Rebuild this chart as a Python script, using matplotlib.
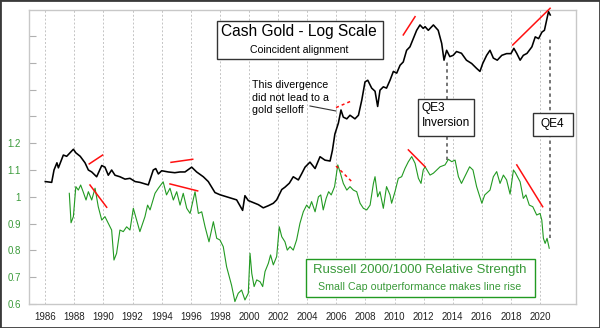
import matplotlib
matplotlib.use("Agg")
import matplotlib.pyplot as plt
from matplotlib.patches import Rectangle

plt.rcParams['font.family'] = ['Liberation Sans', 'DejaVu Sans']

# --- cash gold, $/oz (log axis)
gold_years = [
    1986.00, 1986.44, 1986.60, 1986.80, 1986.90, 1987.24, 1987.47, 1987.93, 1988.10, 1988.40,
    1988.73, 1988.96, 1989.19, 1989.53, 1989.88, 1990.10, 1990.33, 1990.56, 1990.79, 1991.13,
    1991.48, 1991.82, 1992.17, 1992.50, 1993.08, 1993.42, 1993.59, 1993.77, 1994.00, 1994.45,
    1994.90, 1995.26, 1995.60, 1996.06, 1996.40, 1996.86, 1997.20, 1997.66, 1998.00, 1998.35,
    1998.80, 1999.15, 1999.56, 1999.72, 1999.95, 2000.30, 2000.64, 2000.98, 2001.33, 2001.67,
    2001.90, 2002.25, 2002.47, 2002.77, 2003.04, 2003.39, 2003.62, 2003.85, 2004.19, 2004.54,
    2004.88, 2005.22, 2005.57, 2005.73, 2005.90, 2006.14, 2006.32, 2006.48, 2006.72, 2006.94,
    2007.28, 2007.52, 2007.75, 2007.97, 2008.16, 2008.43, 2008.66, 2008.84, 2009.00, 2009.23,
    2009.45, 2009.69, 2009.92, 2010.15, 2010.38, 2010.60, 2010.83, 2011.06, 2011.29, 2011.52,
    2011.75, 2011.97, 2012.10, 2012.32, 2012.67, 2013.00, 2013.24, 2013.40, 2013.58, 2013.80,
    2014.03, 2014.26, 2014.60, 2014.94, 2015.30, 2015.64, 2015.87, 2016.06, 2016.33, 2016.56,
    2016.79, 2017.06, 2017.37, 2017.70, 2018.00, 2018.20, 2018.40, 2018.63, 2018.85, 2019.10,
    2019.44, 2019.67, 2019.90, 2020.13, 2020.30, 2020.48, 2020.58, 2020.70,
]
gold_price = [
    346, 343, 391, 422, 400, 458, 452, 487, 469, 452,
    422, 391, 383, 364, 410, 403, 370, 391, 370, 364,
    355, 358, 346, 343, 334, 391, 397, 375, 388, 383,
    380, 383, 383, 403, 383, 364, 346, 308, 301, 296,
    290, 285, 255, 298, 283, 277, 271, 262, 268, 275,
    285, 318, 326, 340, 364, 352, 376, 403, 425, 397,
    450, 434, 430, 481, 572, 642, 738, 684, 672, 698,
    672, 698, 820, 993, 1011, 930, 900, 766, 910, 943,
    930, 1011, 1110, 1090, 1185, 1227, 1388, 1440, 1570, 1715,
    1815, 1750, 1782, 1715, 1815, 1715, 1493, 1250, 1388, 1298,
    1316, 1370, 1345, 1250, 1207, 1146, 1110, 1207, 1316, 1388,
    1278, 1250, 1316, 1340, 1340, 1417, 1343, 1250, 1316, 1343,
    1440, 1600, 1570, 1683, 1715, 1946, 2090, 2017,
]

# --- Russell 2000 / Russell 1000 ratio
rs_years = [
    1987.65, 1987.77, 1987.93, 1988.10, 1988.27, 1988.43, 1988.60, 1988.80, 1988.96, 1989.19,
    1989.42, 1989.64, 1989.88, 1990.10, 1990.33, 1990.56, 1990.72, 1990.90, 1991.13, 1991.36,
    1991.59, 1991.82, 1992.05, 1992.28, 1992.50, 1992.85, 1993.03, 1993.20, 1993.54, 1993.77,
    1994.10, 1994.33, 1994.57, 1994.80, 1995.03, 1995.26, 1995.48, 1995.72, 1995.95, 1996.29,
    1996.52, 1996.75, 1996.98, 1997.25, 1997.55, 1997.78, 1998.00, 1998.23, 1998.46, 1998.80,
    1999.03, 1999.26, 1999.49, 1999.72, 1999.95, 2000.07, 2000.19, 2000.35, 2000.53, 2000.76,
    2000.94, 2001.10, 2001.33, 2001.48, 2001.67, 2001.90, 2002.08, 2002.25, 2002.47, 2002.63,
    2002.82, 2003.04, 2003.27, 2003.50, 2003.73, 2003.96, 2004.14, 2004.30, 2004.54, 2004.77,
    2004.93, 2005.10, 2005.30, 2005.47, 2005.65, 2005.88, 2006.10, 2006.28, 2006.48, 2006.72,
    2006.94, 2007.17, 2007.40, 2007.63, 2007.86, 2008.09, 2008.32, 2008.55, 2008.66, 2008.84,
    2009.00, 2009.23, 2009.45, 2009.69, 2009.80, 2010.03, 2010.26, 2010.49, 2010.72, 2010.95,
    2011.18, 2011.41, 2011.64, 2011.82, 2011.97, 2012.10, 2012.44, 2012.67, 2012.90, 2013.13,
    2013.47, 2013.70, 2013.93, 2014.16, 2014.39, 2014.60, 2014.94, 2015.16, 2015.39, 2015.64,
    2016.00, 2016.20, 2016.56, 2016.79, 2017.02, 2017.25, 2017.48, 2017.70, 2017.94, 2018.17,
    2018.30, 2018.63, 2018.85, 2019.03, 2019.26, 2019.50, 2019.77, 2020.00, 2020.12, 2020.23,
    2020.35, 2020.48, 2020.63,
]
rs_ratio = [
    1.013, 0.903, 0.926, 1.038, 1.025, 1.044, 1.019, 0.988, 1.019, 0.988,
    1.032, 0.963, 0.913, 0.926, 0.901, 0.876, 0.764, 0.789, 0.876, 0.870,
    0.888, 0.876, 0.957, 0.913, 0.870, 0.926, 0.969, 0.951, 1.013, 1.032,
    1.056, 1.007, 1.032, 0.988, 1.019, 0.969, 1.013, 0.957, 0.938, 1.019,
    0.938, 0.944, 0.888, 0.832, 0.907, 0.845, 0.839, 0.814, 0.739, 0.670,
    0.609, 0.640, 0.652, 0.615, 0.640, 0.789, 0.714, 0.665, 0.690, 0.683,
    0.665, 0.721, 0.752, 0.783, 0.746, 0.777, 0.888, 0.851, 0.832, 0.801,
    0.814, 0.801, 0.839, 0.901, 0.944, 0.969, 0.957, 0.982, 0.944, 1.000,
    1.007, 0.951, 0.994, 1.019, 1.007, 1.038, 1.119, 1.088, 1.050, 1.025,
    1.038, 1.025, 1.019, 0.976, 0.957, 0.951, 0.969, 1.050, 1.075, 1.000,
    1.019, 0.957, 1.038, 1.007, 0.976, 1.019, 1.069, 1.075, 1.106, 1.131,
    1.150, 1.125, 1.069, 1.050, 1.100, 1.112, 1.081, 1.088, 1.100, 1.112,
    1.119, 1.140, 1.131, 1.137, 1.075, 1.050, 1.088, 1.112, 1.100, 1.038,
    0.976, 1.007, 1.025, 1.075, 1.094, 1.050, 1.081, 1.063, 1.010, 1.100,
    1.090, 1.056, 0.994, 1.007, 0.969, 0.963, 0.932, 0.938, 0.913, 0.845,
    0.826, 0.845, 0.808,
]

# divergence markers: ((year0, year1), (value0, value1), dotted)
gold_marks = [
    ((1989.02, 1989.94), (417, 458), False),
    ((1994.64, 1996.13), (424, 438), False),
    ((2005.98, 2007.06), (757, 813), True),
    ((2010.60, 2011.41), (1633, 1981), False),
    ((2018.12, 2020.69), (1468, 2165), False),
]
rs_marks = [
    ((1989.07, 1990.22), (1.044, 0.961), False),
    ((1994.57, 1996.47), (1.048, 1.022), False),
    ((2005.98, 2007.13), (1.115, 1.053), True),
    ((2010.95, 2012.10), (1.175, 1.112), False),
    ((2018.40, 2020.18), (1.119, 0.963), False),
]

qe_years = [2013.63, 2020.65]
year_ticks = list(range(1986, 2021, 2))
rs_ticks = [0.6, 0.7, 0.8, 0.9, 1.0, 1.1, 1.2, 1.3, 1.4, 1.5, 1.6]
rs_tick_labels = ['0.6', '0.7', '0.8', '0.9', '1', '1.1', '1.2', '', '', '', '']

GREEN = '#229a22'
GREEN_TXT = '#3a9a3a'

fig = plt.figure(figsize=(6, 3.28), dpi=100)
fig.patch.set_facecolor('white')
ax = fig.add_axes([0.0488, 0.0732, 0.9112, 0.8963])
ax2 = ax.twinx()

# --- green ratio, left axis
ax.plot(rs_years, rs_ratio, color=GREEN, lw=0.8, zorder=3)
for (x0, x1), (v0, v1), dotted in rs_marks:
    ax.plot([x0, x1], [v0, v1], color='#ff1010', lw=1.1,
            ls=(0, (2, 2)) if dotted else '-', zorder=4)

ax.set_xlim(1984.9, 2022.47)
ax.set_ylim(0.6, 1.697)
ax.set_xticks(year_ticks)
ax.set_yticks(rs_ticks)
ax.set_yticklabels(rs_tick_labels)
ax.tick_params(axis='x', length=0, pad=5.6, labelsize=7, labelcolor='#222222')
ax.tick_params(axis='y', direction='in', length=4.7, width=0.8, color='#b0b0b0',
               pad=6.2, labelsize=7, labelcolor=GREEN_TXT)
ax.grid(axis='x', color='#c4c4c4', ls=(0, (2, 2)), lw=0.7)
ax.set_axisbelow(True)
for sp in ax.spines.values():
    sp.set_color('#c8c8c8')
    sp.set_linewidth(1.0)

# --- gold, log scale, no visible axis
ax2.plot(gold_years, gold_price, color='black', lw=1.15, zorder=3)
for (x0, x1), (p0, p1), dotted in gold_marks:
    ax2.plot([x0, x1], [p0, p1], color='#ff1010', lw=1.1, clip_on=False,
             ls=(0, (2, 2)) if dotted else '-', zorder=4)
ax2.set_yscale('log')
ax2.set_ylim(94.7, 2126)
ax2.set_yticks([])
ax2.minorticks_off()
ax2.tick_params(axis='y', which='both', length=0, labelright=False)
for sp in ax2.spines.values():
    sp.set_visible(False)

# QE markers
for yr, (lo, hi) in zip(qe_years, [(0.49, 0.823), (0.2245, 0.905)]):
    ax2.axvline(yr, ymin=lo, ymax=hi, color='#505050', lw=1.1,
                ls=(0, (2.2, 2.2)), zorder=5)

tr = ax2.transAxes


def box(x0, y0, x1, y1, edge):
    ax2.add_patch(Rectangle((x0, y0), x1 - x0, y1 - y0, transform=tr,
                            facecolor='white', edgecolor=edge, lw=1.0, zorder=6))


box(0.344, 0.832, 0.6475, 0.9636, '#333333')
ax2.text(0.4937, 0.927, 'Cash Gold - Log Scale', transform=tr, ha='center',
         va='center', fontsize=11.2, zorder=7)
ax2.text(0.4937, 0.864, 'Coincident alignment', transform=tr, ha='center',
         va='center', fontsize=7.6, zorder=7)

ax2.text(0.408, 0.7017, 'This divergence\ndid not lead to a\ngold selloff',
         transform=tr, ha='left', va='center', fontsize=7.7, linespacing=1.3,
         zorder=7)
ax2.plot([0.5134, 0.561], [0.6735, 0.6565], transform=tr, color='#333333',
         lw=0.8, zorder=7)

box(0.7115, 0.5714, 0.8133, 0.6963, '#333333')
ax2.text(0.7178, 0.6667, 'QE3', transform=tr, ha='left', va='center',
         fontsize=8.6, zorder=7)
ax2.text(0.7178, 0.6156, 'Inversion', transform=tr, ha='left', va='center',
         fontsize=8.6, zorder=7)

box(0.9208, 0.5714, 0.994, 0.6507, '#333333')
ax2.text(0.956, 0.6122, 'QE4', transform=tr, ha='center', va='center',
         fontsize=8.6, zorder=7)

box(0.5061, 0.0228, 0.9256, 0.152, GREEN)
ax2.text(0.7147, 0.1156, 'Russell 2000/1000 Relative Strength', transform=tr,
         ha='center', va='center', fontsize=9.45, color=GREEN_TXT, zorder=7)
ax2.text(0.7147, 0.0568, 'Small Cap outperformance makes line rise',
         transform=tr, ha='center', va='center', fontsize=7.65,
         color=GREEN_TXT, zorder=7)

# outer frame
fig.patches.append(Rectangle((0, 0), 1, 1, transform=fig.transFigure,
                             fill=False, edgecolor='#3a3a3a', lw=2.0))

fig.savefig('out.png', dpi=100)
